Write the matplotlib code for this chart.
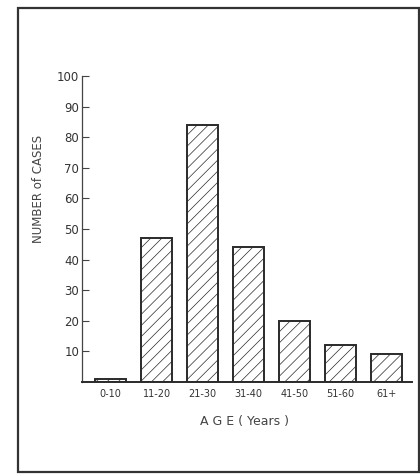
import matplotlib
matplotlib.use('Agg')
import matplotlib.pyplot as plt
from matplotlib.patches import Rectangle

age_groups = ['0-10', '11-20', '21-30', '31-40', '41-50', '51-60', '61+']
cases = [1, 47, 84, 44, 20, 12, 9]
y_ticks = [10, 20, 30, 40, 50, 60, 70, 80, 90, 100]

plt.rcParams['font.family'] = 'DejaVu Sans'
plt.rcParams['hatch.linewidth'] = 0.5
plt.rcParams['hatch.color'] = '#666666'

ink = '#2a2a2a'
fig = plt.figure(figsize=(4.2, 4.76), dpi=100)
fig.patches.append(Rectangle((18/420, 1-472/476), 401/420, 464/476,
                             transform=fig.transFigure, fill=False,
                             edgecolor='#333333', linewidth=1.6))

ax = fig.add_axes([82/420, 1-382/476, 330/420, 306/476])
x = list(range(len(age_groups)))
ax.bar(x, cases, width=0.67, color='white', edgecolor=ink,
       linewidth=1.4, hatch='///')

ax.set_xlim(-0.62, 6.55)
ax.set_ylim(0, 100)
ax.set_xticks(x)
ax.set_xticklabels(age_groups, fontsize=7, color='#333333')
ax.set_yticks(y_ticks)
ax.set_yticklabels([str(t) for t in y_ticks], fontsize=8.5, color='#333333')
ax.tick_params(axis='x', length=0, pad=5)
ax.tick_params(axis='y', direction='in', length=5, width=0.8, color='#444444', pad=2)
for s in ['top', 'right']:
    ax.spines[s].set_visible(False)
ax.spines['left'].set_color('#444444')
ax.spines['bottom'].set_color(ink)
ax.spines['left'].set_linewidth(0.9)
ax.spines['bottom'].set_linewidth(1.4)

fig.text(38/420, 1-189/476, 'NUMBER of CASES', rotation=90,
         ha='center', va='center', fontsize=8.5, color='#444444')
fig.text(244/420, 1-421/476, 'A G E ( Years )', ha='center', va='center',
         fontsize=9, color='#444444')

fig.savefig('out.png', dpi=100)
